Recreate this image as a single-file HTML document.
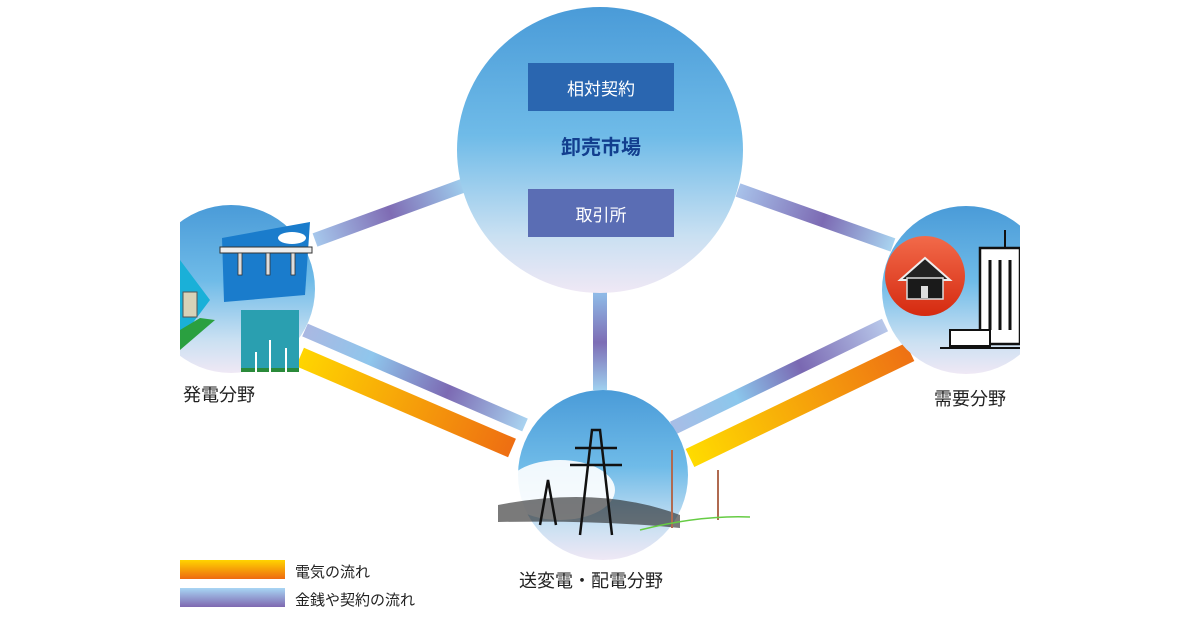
<!DOCTYPE html>
<html><head><meta charset="utf-8"><style>
html,body{margin:0;padding:0;background:#fff;}
svg{display:block;}
text{font-family:"Liberation Sans","Noto Sans CJK JP",sans-serif;}
</style></head><body>
<svg width="1200" height="630" viewBox="0 0 1200 630" xmlns="http://www.w3.org/2000/svg">
<defs>
<linearGradient id="cg" x1="0" y1="0" x2="0" y2="1">
<stop offset="0" stop-color="#4a9bd8"/><stop offset="0.45" stop-color="#6fbbe8"/><stop offset="0.8" stop-color="#c9e0f2"/><stop offset="1" stop-color="#efe8f5"/>
</linearGradient>
<clipPath id="clipL"><rect x="180" y="0" width="200" height="630"/></clipPath>
<clipPath id="clipR"><rect x="800" y="0" width="220" height="630"/></clipPath>
<linearGradient id="p1" gradientUnits="userSpaceOnUse" x1="315" y1="240" x2="465" y2="185"><stop offset="0" stop-color="#a6c8ec"/><stop offset="0.5" stop-color="#7f6cb4"/><stop offset="1" stop-color="#9fcfee"/></linearGradient>
<linearGradient id="p2" gradientUnits="userSpaceOnUse" x1="305" y1="330" x2="525" y2="425"><stop offset="0" stop-color="#aab8e2"/><stop offset="0.3" stop-color="#8fc6ec"/><stop offset="0.65" stop-color="#7c6ab3"/><stop offset="1" stop-color="#a9d3f0"/></linearGradient>
<linearGradient id="p3" gradientUnits="userSpaceOnUse" x1="600" y1="295" x2="600" y2="390"><stop offset="0" stop-color="#8fb9e6"/><stop offset="0.5" stop-color="#7d6db5"/><stop offset="1" stop-color="#9fd0ef"/></linearGradient>
<linearGradient id="p4" gradientUnits="userSpaceOnUse" x1="738" y1="190" x2="893" y2="245"><stop offset="0" stop-color="#a8c2ea"/><stop offset="0.55" stop-color="#7c6ab3"/><stop offset="1" stop-color="#a9d4f0"/></linearGradient>
<linearGradient id="p5" gradientUnits="userSpaceOnUse" x1="673" y1="428" x2="885" y2="325"><stop offset="0" stop-color="#a8bde6"/><stop offset="0.3" stop-color="#8bc7ec"/><stop offset="0.6" stop-color="#7a68b2"/><stop offset="1" stop-color="#b8c8ea"/></linearGradient>
<linearGradient id="o1" gradientUnits="userSpaceOnUse" x1="300" y1="355" x2="512" y2="448"><stop offset="0" stop-color="#ffd600"/><stop offset="1" stop-color="#ee6e12"/></linearGradient>
<linearGradient id="o2" gradientUnits="userSpaceOnUse" x1="688" y1="458" x2="910" y2="350"><stop offset="0" stop-color="#ffdc00"/><stop offset="1" stop-color="#ee7014"/></linearGradient>
<linearGradient id="lo" x1="0" y1="0" x2="0" y2="1"><stop offset="0" stop-color="#ffd400"/><stop offset="1" stop-color="#ee6a10"/></linearGradient>
<linearGradient id="lp" x1="0" y1="0" x2="0" y2="1"><stop offset="0" stop-color="#a8d6f4"/><stop offset="1" stop-color="#7e68b0"/></linearGradient>
<linearGradient id="red" x1="0" y1="0" x2="0" y2="1"><stop offset="0" stop-color="#f26a4a"/><stop offset="1" stop-color="#d52a10"/></linearGradient>
</defs>

<line x1="315" y1="240" x2="465" y2="185" stroke="url(#p1)" stroke-width="14"/>
<line x1="305" y1="330" x2="525" y2="425" stroke="url(#p2)" stroke-width="14"/>
<line x1="300" y1="357" x2="512" y2="448" stroke="url(#o1)" stroke-width="20"/>
<line x1="600" y1="290" x2="600" y2="390" stroke="url(#p3)" stroke-width="14"/>
<line x1="738" y1="190" x2="893" y2="245" stroke="url(#p4)" stroke-width="14"/>
<line x1="673" y1="428" x2="885" y2="325" stroke="url(#p5)" stroke-width="14"/>
<line x1="690" y1="458" x2="910" y2="352" stroke="url(#o2)" stroke-width="20"/>

<circle cx="600" cy="150" r="143" fill="url(#cg)"/>
<rect x="528" y="63" width="146" height="48" fill="#2a66b0"/>
<text x="601" y="95" font-size="17" fill="#fff" text-anchor="middle">相対契約</text>
<text x="601" y="154" font-size="20" font-weight="bold" fill="#123e8e" text-anchor="middle">卸売市場</text>
<rect x="528" y="189" width="146" height="48" fill="#5a6db4"/>
<text x="601" y="221" font-size="17" fill="#fff" text-anchor="middle">取引所</text>

<g clip-path="url(#clipL)">
<circle cx="231" cy="289" r="84" fill="url(#cg)"/>
<polygon points="180,260 210,300 180,340" fill="#1ab0d8"/>
<polygon points="180,330 200,318 215,320 180,350" fill="#2aa040"/>
<rect x="183" y="292" width="14" height="25" fill="#d8d2b8" stroke="#555" stroke-width="1"/>
</g>
<polygon points="222,238 310,222 305,295 224,302" fill="#1a7ccc"/>
<rect x="220" y="247" width="92" height="6" fill="#eee" stroke="#333" stroke-width="1"/>
<rect x="238" y="253" width="4" height="22" fill="#ddd" stroke="#333" stroke-width="0.8"/>
<rect x="266" y="253" width="4" height="22" fill="#ddd" stroke="#333" stroke-width="0.8"/>
<rect x="291" y="253" width="4" height="22" fill="#ddd" stroke="#333" stroke-width="0.8"/>
<ellipse cx="292" cy="238" rx="14" ry="6" fill="#fff"/>
<rect x="241" y="310" width="58" height="62" fill="#2a9fb0"/>
<rect x="241" y="368" width="58" height="4" fill="#2a8a3a"/>
<g stroke="#fff" stroke-width="2"><line x1="270" y1="340" x2="270" y2="372"/><line x1="286" y1="348" x2="286" y2="372"/><line x1="256" y1="352" x2="256" y2="372"/></g>
<text x="183" y="401" font-size="18" fill="#222">発電分野</text>

<g clip-path="url(#clipR)">
<circle cx="966" cy="290" r="84" fill="url(#cg)"/>
<rect x="980" y="248" width="40" height="96" fill="#fff" stroke="#111" stroke-width="2.5"/>
<g stroke="#111" stroke-width="3"><line x1="990" y1="260" x2="990" y2="330"/><line x1="1000" y1="260" x2="1000" y2="330"/><line x1="1010" y1="260" x2="1010" y2="330"/></g>
<line x1="1005" y1="230" x2="1005" y2="248" stroke="#111" stroke-width="2"/>
<rect x="950" y="330" width="40" height="16" fill="#fff" stroke="#111" stroke-width="2"/>
<line x1="940" y1="348" x2="1020" y2="348" stroke="#111" stroke-width="2"/>
</g>
<circle cx="925" cy="276" r="40" fill="url(#red)"/>
<polygon points="900,280 925,258 950,280" fill="#222" stroke="#eee" stroke-width="2"/>
<rect x="907" y="278" width="36" height="21" fill="#1a1a1a" stroke="#ddd" stroke-width="1.5"/>
<rect x="921" y="286" width="7" height="12" fill="#ddd"/>
<text x="934" y="405" font-size="18" fill="#222">需要分野</text>

<circle cx="603" cy="475" r="85" fill="url(#cg)"/>
<ellipse cx="560" cy="490" rx="55" ry="30" fill="#fff" opacity="0.9"/>
<path d="M498,505 Q600,485 680,515 L680,528 Q600,520 498,522 Z" fill="#222" opacity="0.6"/>
<g stroke="#111" stroke-width="2.5" fill="none">
<path d="M580,535 L592,430 L600,430 L612,535"/><line x1="570" y1="465" x2="622" y2="465"/><line x1="575" y1="448" x2="617" y2="448"/>
<path d="M540,525 L548,480 L556,525"/>
</g>
<g stroke="#b06a50" stroke-width="2"><line x1="672" y1="450" x2="672" y2="528"/><line x1="718" y1="470" x2="718" y2="520"/></g>
<path d="M640,530 Q700,515 750,517" stroke="#6c4" stroke-width="1.5" fill="none"/>
<text x="519" y="587" font-size="18" fill="#222">送変電・配電分野</text>

<rect x="180" y="560" width="105" height="19" fill="url(#lo)"/>
<rect x="180" y="588" width="105" height="19" fill="url(#lp)"/>
<text x="295" y="577" font-size="15" fill="#222">電気の流れ</text>
<text x="295" y="605" font-size="15" fill="#222">金銭や契約の流れ</text>
</svg>
</body></html>
